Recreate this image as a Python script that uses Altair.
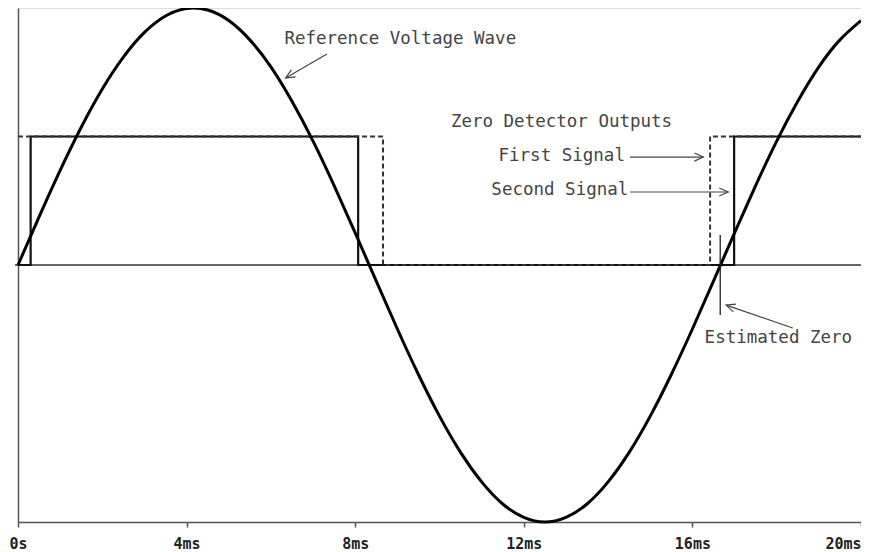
import altair as alt
import pandas as pd

# Reference voltage wave (normalized), sampled every 0.5 ms
sine_ms = [0, 0.5, 1, 1.5, 2, 2.5, 3, 3.5, 4, 4.5, 5, 5.5, 6, 6.5, 7, 7.5, 8, 8.5, 9, 9.5,
           10, 10.5, 11, 11.5, 12, 12.5, 13, 13.5, 14, 14.5, 15, 15.5, 16, 16.5, 17, 17.5,
           18, 18.5, 19, 19.5, 20]
sine_v = [0.000, 0.187, 0.368, 0.536, 0.685, 0.809, 0.905, 0.969, 0.998, 0.992,
          0.951, 0.876, 0.771, 0.637, 0.482, 0.309, 0.125, -0.063, -0.249, -0.426,
          -0.588, -0.729, -0.844, -0.930, -0.982, -1.000, -0.982, -0.930, -0.844, -0.729,
          -0.588, -0.426, -0.249, -0.063, 0.125, 0.309, 0.482, 0.637, 0.771, 0.876,
          0.951]

# Zero detector outputs
second_ms = [0, 0.3, 0.3, 8.07, 8.07, 16.99, 16.99, 20]
second_v = [0, 0, 0.5, 0.5, 0, 0, 0.5, 0.5]
first_ms = [0, 8.66, 8.66, 16.42, 16.42, 20]
first_v = [0.5, 0.5, 0, 0, 0.5, 0.5]

# Estimated zero marker
est_zero_ms = 16.66
est_zero_range = [-0.195, 0.117]

tick_ms = [0, 4, 8, 12, 16, 20]

# Annotations
labels = ["Reference Voltage Wave", "Zero Detector Outputs", "First Signal", "Second Signal", "Estimated Zero"]
label_ms = [6.32, 10.27, 11.40, 11.23, 16.29]
label_v = [0.879, 0.556, 0.424, 0.292, -0.284]

arrow_tail_ms = [7.33, 14.52, 14.52, 18.38]
arrow_tail_v = [0.821, 0.420, 0.284, -0.245]
arrow_tip_ms = [6.35, 16.26, 16.85, 16.80]
arrow_tip_v = [0.728, 0.420, 0.284, -0.156]
arrow_angle = [150, 0, 0, 199]

FONT = "DejaVu Sans Mono"
AX = "#555"

sine_df = pd.DataFrame({"t": sine_ms, "v": sine_v})
second_df = pd.DataFrame({"t": second_ms, "v": second_v, "i": list(range(len(second_ms)))})
first_df = pd.DataFrame({"t": first_ms, "v": first_v, "i": list(range(len(first_ms)))})
zero_df = pd.DataFrame({"t": [-0.07], "t2": [20], "v": [0]})
est_df = pd.DataFrame({"t": [est_zero_ms], "v": [est_zero_range[0]], "v2": [est_zero_range[1]]})
lab_df = pd.DataFrame({"label": labels, "t": label_ms, "v": label_v})
arr_df = pd.DataFrame({"t": arrow_tail_ms, "v": arrow_tail_v, "t2": arrow_tip_ms, "v2": arrow_tip_v,
                       "ang": arrow_angle})

xscale = alt.Scale(domain=[0, 20], nice=False, zero=False)
yscale = alt.Scale(domain=[-1, 1], nice=False)

xaxis = alt.Axis(values=tick_ms, labelExpr="datum.value == 0 ? '0s' : datum.value + 'ms'",
                 title=None, grid=False, domainColor=AX, domainWidth=1.5, tickColor=AX,
                 tickWidth=1.5, tickSize=5, labelFont=FONT, labelFontWeight="bold",
                 labelFontSize=15, labelColor="#222", labelPadding=9,
                 labelAlign={"condition": {"test": "datum.value == 20", "value": "right"}, "value": "center"})
yaxis = alt.Axis(labels=False, ticks=False, title=None, grid=False, domainColor=AX, domainWidth=1.5)

X = alt.X("t:Q", scale=xscale, axis=xaxis)
Y = alt.Y("v:Q", scale=yscale, axis=yaxis)

zero_line = alt.Chart(zero_df).mark_rule(color="#333", strokeWidth=1.3).encode(
    x=X, x2="t2:Q", y=Y)

second = alt.Chart(second_df).mark_line(color="#111", strokeWidth=2.2).encode(
    x=X, y=Y, order="i:Q")

first = alt.Chart(first_df).mark_line(color="#333", strokeWidth=2, strokeDash=[5, 3]).encode(
    x=X, y=Y, order="i:Q")

sine = alt.Chart(sine_df).mark_line(color="#000", strokeWidth=3, interpolate="natural").encode(
    x=X, y=Y)

est = alt.Chart(est_df).mark_rule(color="#222", strokeWidth=1.3).encode(
    x=X, y=Y, y2="v2:Q")

texts = alt.Chart(lab_df).mark_text(align="left", baseline="middle", font=FONT, fontSize=17.5,
                                    color="#444").encode(x=X, y=Y, text="label:N")

shafts = alt.Chart(arr_df).mark_rule(color="#444", strokeWidth=1.2).encode(
    x=X, y=Y, x2="t2:Q", y2="v2:Q")

heads = alt.Chart(arr_df).mark_point(shape="M-1,-0.45L0,0L-1,0.45", filled=False, size=324,
                                     strokeWidth=1.2, color="#444", opacity=1).encode(
    x=alt.X("t2:Q", scale=xscale, axis=xaxis), y=alt.Y("v2:Q", scale=yscale, axis=yaxis),
    angle=alt.Angle("ang:Q", scale=None))

chart = alt.layer(zero_line, second, first, sine, est, shafts, heads, texts).properties(
    width=843, height=514,
    autosize=alt.AutoSizeParams(type="none"),
    padding={"left": 10, "top": 0, "right": 0, "bottom": 30},
).configure_view(stroke=AX, strokeWidth=1.5).configure(background="white")

chart.save("out.html", embed_options={"renderer": "svg", "actions": False})
